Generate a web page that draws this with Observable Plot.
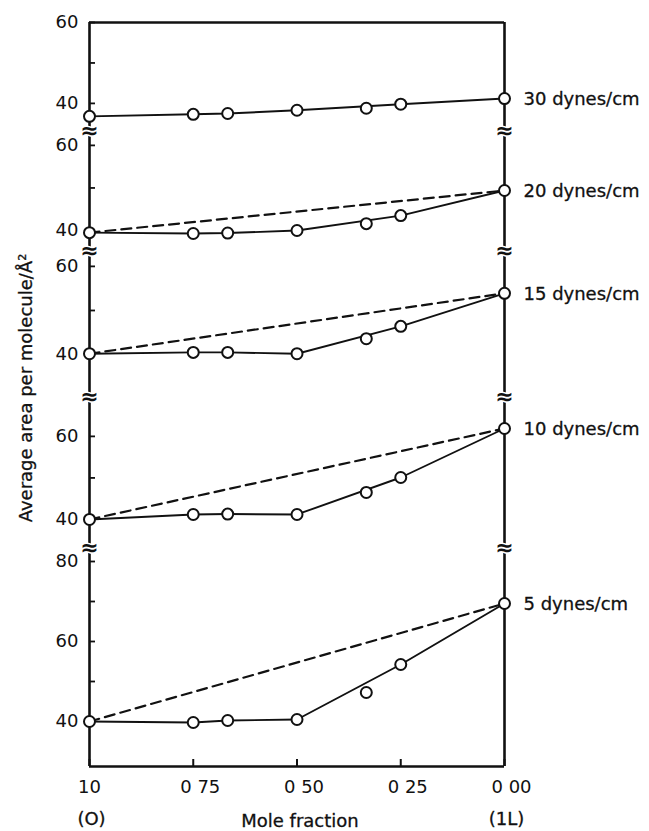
<!DOCTYPE html>
<html><head><meta charset="utf-8">
<script src="https://cdn.jsdelivr.net/npm/d3@7"></script>
<script src="https://cdn.jsdelivr.net/npm/@observablehq/plot@0.6"></script>
<style>
html,body{margin:0;padding:0;background:#fff;}
#chart{position:relative;width:649px;height:831px;overflow:hidden;background:#fff;font-family:"DejaVu Sans",sans-serif;color:#111;}
#chart svg{position:absolute;left:0;}
#ylabel{position:absolute;left:26px;top:388px;transform:translate(-50%,-50%) rotate(-90deg);white-space:nowrap;font-size:18px;line-height:1;-webkit-text-stroke:0.3px #111;}
</style></head><body>
<div id="chart"></div>
<script>
// ---- data ----
const moleFraction = [1.0, 0.75, 0.667, 0.5, 0.333, 0.25, 0.0];
const onFittedLine = [true, true, true, true, false, true, true];
const pressureLabels = ["30 dynes/cm", "20 dynes/cm", "15 dynes/cm", "10 dynes/cm", "5 dynes/cm"];
const area30 = [36.8, 37.3, 37.5, 38.3, 38.8, 39.8, 41.2];
const area20 = [39.5, 39.3, 39.4, 40.0, 41.6, 43.5, 49.4];
const area15 = [40.2, 40.5, 40.5, 40.2, 43.6, 46.4, 53.9];
const area10 = [40.0, 41.2, 41.3, 41.2, 46.5, 50.1, 61.9];
const area5  = [40.0, 39.75, 40.25, 40.5, 47.25, 54.25, 69.5];
const hasIdealLine = [false, true, true, true, true];
const yDomains = [[33.3, 60], [35.3, 63.5], [30.5, 63.6], [33.25, 69.6], [28.75, 83.5]];
const yTicks = [[40, 50, 60], [40, 50, 60], [40, 50, 60], [40, 50, 60], [40, 50, 60, 70, 80]];
const yTickLabels = [[40, 60], [40, 60], [40, 60], [40, 60], [40, 60, 80]];
const xDomain = [1.0, 0.0];
const xTicks = [1.0, 0.75, 0.5, 0.25, 0.0];
const xTickLabels = ["10", "0 75", "0 50", "0 25", "0 00"];
const xEndLabels = ["(O)", "(1L)"];
const xTitle = "Mole fraction";
const yTitle = "Average area per molecule/Å²";

// ---- layout ----
const W = 649, left = 89, right = 504;
const bands = [[22, 130], [130, 250], [250, 396], [396, 547], [547, 766]];
const ink = "#111";
const textStyle = {fontSize: 18, fill: ink, stroke: ink, strokeWidth: 0.3};
const series = [area30, area20, area15, area10, area5];
const chart = document.getElementById("chart");
const xLabelFor = new Map(xTicks.map((t, i) => [t, xTickLabels[i]]));

series.forEach((vals, i) => {
  const rows = moleFraction.map((x, j) => ({x, y: vals[j], fit: onFittedLine[j]}));
  const isTop = i === 0, isBottom = i === series.length - 1;
  const mt = 20, mb = isBottom ? 70 : 20;
  const [t, b] = bands[i];
  const ends = [rows[0], rows[rows.length - 1]];
  const marks = [
    Plot.ruleX([xDomain[0]], {stroke: ink, strokeWidth: 2.6}),
    Plot.ruleX([xDomain[1]], {stroke: ink, strokeWidth: 2.6}),
    Plot.tickY(yTicks[i], {y: d => d, stroke: ink, strokeWidth: 1.8, insetRight: (right - left) - 6})
  ];
  if (isTop) marks.push(Plot.ruleY([yDomains[i][1]], {stroke: ink, strokeWidth: 2.6}));
  if (isBottom) marks.push(Plot.ruleY([yDomains[i][0]], {stroke: ink, strokeWidth: 2.6}));
  marks.push(
    Plot.axisY({ticks: yTickLabels[i], tickSize: 0, tickPadding: 11, ...textStyle, label: null})
  );
  if (!isTop) {
    for (const anchor of ["top-left", "top-right"]) {
      marks.push(Plot.text(["≈"], {frameAnchor: anchor, text: d => d, fontSize: 22, fontWeight: "bold",
        fill: ink, stroke: "white", strokeWidth: 3, paintOrder: "stroke", textAnchor: "middle", lineAnchor: "middle"}));
    }
  }
  if (isBottom) {
    marks.push(
      Plot.tickX(xTicks, {x: d => d, stroke: ink, strokeWidth: 2, insetTop: (b - t) - 7}),
      Plot.axisX({ticks: xTicks.slice(0, 1), tickSize: 0, tickPadding: 14, tickFormat: d => xLabelFor.get(d), ...textStyle, label: null}),
      Plot.axisX({ticks: xTicks.slice(1), tickSize: 0, tickPadding: 14, dx: 7, tickFormat: d => xLabelFor.get(d), ...textStyle, label: null}),
      Plot.text(xEndLabels, {x: (d, k) => xDomain[k], text: d => d, frameAnchor: "bottom", dy: 58, dx: 2, lineAnchor: "bottom", ...textStyle}),
      Plot.text([xTitle], {text: d => d, frameAnchor: "bottom", dy: 60, dx: 3, lineAnchor: "bottom", ...textStyle})
    );
  }
  if (hasIdealLine[i]) {
    marks.push(Plot.line(ends, {x: "x", y: "y", stroke: ink, strokeWidth: 2.2, strokeDasharray: "10,6"}));
  }
  marks.push(
    Plot.line(rows.filter(d => d.fit), {x: "x", y: "y", stroke: ink, strokeWidth: 1.9}),
    Plot.dot(rows, {x: "x", y: "y", r: 5.5, fill: "white", stroke: ink, strokeWidth: 2}),
    Plot.text([rows[rows.length - 1]], {x: "x", y: "y", text: () => pressureLabels[i], textAnchor: "start", dx: 19, dy: 1, ...textStyle})
  );
  const svg = Plot.plot({
    width: W,
    height: (b - t) + mt + mb,
    marginLeft: left, marginRight: W - right, marginTop: mt, marginBottom: mb,
    x: {domain: xDomain, axis: isBottom ? undefined : null, label: null},
    y: {domain: yDomains[i], label: null},
    style: {background: "transparent", overflow: "visible", fontFamily: "DejaVu Sans", fontSize: "18px", color: ink},
    marks
  });
  svg.style.top = (t - mt) + "px";
  chart.appendChild(svg);
});

const yl = document.createElement("div");
yl.id = "ylabel";
yl.textContent = yTitle;
chart.appendChild(yl);
</script>
</body></html>
